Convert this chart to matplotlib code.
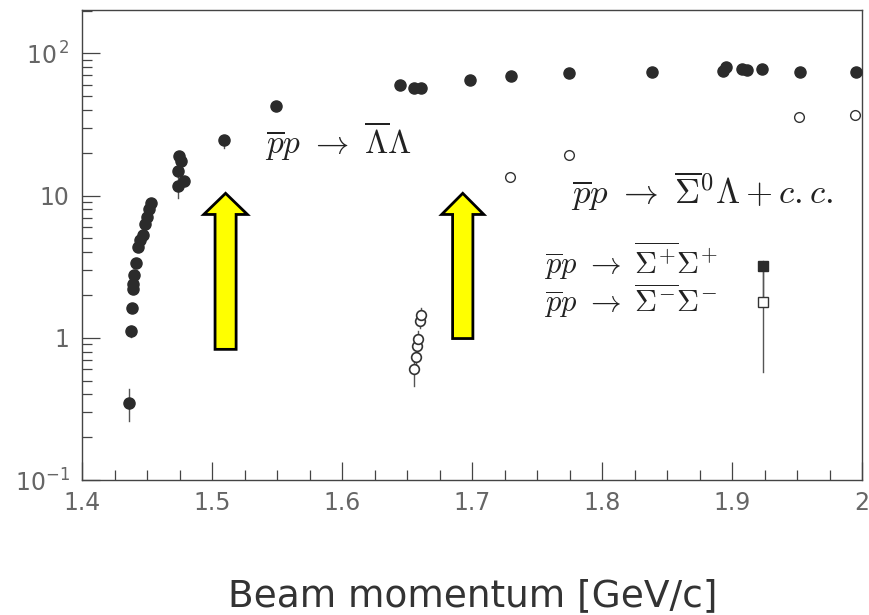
import numpy as np
import matplotlib
matplotlib.use("Agg")
import matplotlib.pyplot as plt
from matplotlib.patches import Polygon

plt.rcParams["font.family"] = "DejaVu Sans"
plt.rcParams["mathtext.fontset"] = "dejavusans"

# pbar p -> Lambdabar Lambda (filled circles)
ll_p = [1.4362, 1.4375, 1.4382, 1.4390, 1.4395, 1.4400, 1.4415, 1.4433,
        1.4446, 1.4467, 1.4485, 1.4498, 1.4518, 1.4528,
        1.4746, 1.4759, 1.4740, 1.4785, 1.4740,
        1.5095, 1.5492, 1.6446, 1.6554, 1.6608, 1.6985, 1.7300, 1.7749,
        1.8387, 1.8928, 1.8954, 1.9074, 1.9113, 1.9228, 1.9523, 1.9951]
ll_s = [0.35, 1.12, 1.62, 2.19, 2.41, 2.78, 3.37, 4.35,
        4.87, 5.28, 6.29, 7.03, 8.0, 8.94,
        19.0, 17.5, 14.9, 12.7, 11.7,
        24.6, 42.6, 60.3, 57.1, 56.8, 65.3, 68.9, 72.6,
        74.1, 75.3, 80.8, 78.3, 76.6, 78.3, 74.6, 74.1]
# error bars (lower, upper) for a few points
ll_err_p = [1.4362, 1.4375, 1.4740, 1.5095]
ll_err_lo = [0.26, 1.02, 9.7, 21.5]
ll_err_hi = [0.44, 1.22, 13.5, 26.0]

# pbar p -> Sigma0bar Lambda + c.c. (open circles)
# near threshold cluster
slt_p = [1.6554, 1.6565, 1.6575, 1.6585, 1.6600, 1.6608]
slt_s = [0.60, 0.73, 0.88, 0.98, 1.31, 1.45]
slt_lo = [0.46, 0.62, 0.76, 0.86, 1.18, 1.32]
slt_hi = [0.70, 0.84, 1.00, 1.12, 1.45, 1.61]
# higher momenta
sl_p = [1.7292, 1.7746, 1.9518, 1.9946]
sl_s = [13.5, 19.2, 35.7, 37.1]

# pbar p -> Sigma+bar Sigma+ (filled square), Sigma-bar Sigma- (open square)
sp_p, sp_s, sp_lo, sp_hi = 1.924, 3.2, 1.78, 3.48
sm_p, sm_s, sm_lo, sm_hi = 1.924, 1.78, 0.574, 3.2

dark = "#2b2b2b"
ebc = "#555555"

fig = plt.figure(figsize=(8.7, 6.15), dpi=100)
ax = fig.add_axes([0.0943, 0.2195, 0.8967, 0.7642])
ax.set_yscale("log")
ax.set_xlim(1.4, 2.0)
ax.set_ylim(0.1, 202)

# error bars
for p, lo, hi in zip(ll_err_p, ll_err_lo, ll_err_hi):
    ax.plot([p, p], [lo, hi], color=ebc, lw=1.0, zorder=2)
for p, lo, hi in zip(slt_p, slt_lo, slt_hi):
    ax.plot([p, p], [lo, hi], color=ebc, lw=1.0, zorder=2)
ax.plot([sp_p, sp_p], [sp_lo, sp_hi], color=ebc, lw=1.0, zorder=2)
ax.plot([sm_p, sm_p], [sm_lo, sm_hi], color=ebc, lw=1.0, zorder=2)

ax.plot(ll_p, ll_s, "o", ms=8, color=dark, mec=dark, zorder=3)
ax.plot(slt_p, slt_s, "o", ms=7, mfc="white", mec="#333333", mew=1.2,
        zorder=3)
ax.plot(sl_p, sl_s, "o", ms=7, mfc="white", mec="#333333", mew=1.0,
        zorder=3)
ax.plot([sp_p], [sp_s], "s", ms=7, color=dark, zorder=4)
ax.plot([sm_p], [sm_s], "s", ms=7, mfc="white", mec="#333333", mew=1.0,
        zorder=4)

# labels of the channels
lab = dict(math_fontfamily="cm", va="center", ha="left", color="#222222")
ax.text(1.5405, 24.0,
        r"$\overline{p}p\ \rightarrow\ \overline{\Lambda}\Lambda$",
        fontsize=24, **lab)
ax.text(1.7760, 10.8,
        r"$\overline{p}p\ \rightarrow\ \overline{\Sigma}^{0}\Lambda + \mathit{c.c.}$",
        fontsize=25, **lab)
ax.text(1.7555, 3.45,
        r"$\overline{p}p\ \rightarrow\ \overline{\Sigma^{+}}\Sigma^{+}$",
        fontsize=22, **lab)
ax.text(1.7555, 1.80,
        r"$\overline{p}p\ \rightarrow\ \overline{\Sigma^{-}}\Sigma^{-}$",
        fontsize=22, **lab)


def up_arrow(ax, xc, y0, y1, shaft_w=0.027, head_w=0.056, head_len=0.045):
    """yellow block arrow in axes fraction"""
    pts = [(xc - shaft_w / 2, y0), (xc + shaft_w / 2, y0),
           (xc + shaft_w / 2, y1 - head_len), (xc + head_w / 2, y1 - head_len),
           (xc, y1), (xc - head_w / 2, y1 - head_len),
           (xc - shaft_w / 2, y1 - head_len)]
    ax.add_patch(Polygon(pts, closed=True, transform=ax.transAxes,
                         facecolor="#ffff00", edgecolor="black", lw=2,
                         zorder=5))


up_arrow(ax, 0.184, 0.278, 0.610)
up_arrow(ax, 0.488, 0.301, 0.610, shaft_w=0.026, head_w=0.054)

# ticks
ax.set_xticks([1.4, 1.5, 1.6, 1.7, 1.8, 1.9, 2.0])
ax.set_xticklabels(["1.4", "1.5", "1.6", "1.7", "1.8", "1.9", "2"])
ax.set_xticks(np.arange(1.4, 2.0001, 0.025), minor=True)
ax.set_yticks([0.1, 1, 10, 100])
ax.set_yticklabels([r"$10^{-1}$", "1", "10", r"$10^{\,2}$"])
ax.tick_params(which="both", direction="in", top=False, right=False,
               colors="#444444", labelcolor="#666666", labelsize=17)
ax.tick_params(which="major", length=13, width=0.9, pad=9)
ax.tick_params(which="minor", length=7, width=0.9)
ax.tick_params(axis="x", which="major", pad=8)
for sp in ax.spines.values():
    sp.set_color("#444444")
    sp.set_linewidth(1.0)

fig.text(0.543, 0.03, "Beam momentum [GeV/c]", fontsize=27,
         color="#333333", ha="center", va="center")

fig.savefig("out.png", dpi=100)
